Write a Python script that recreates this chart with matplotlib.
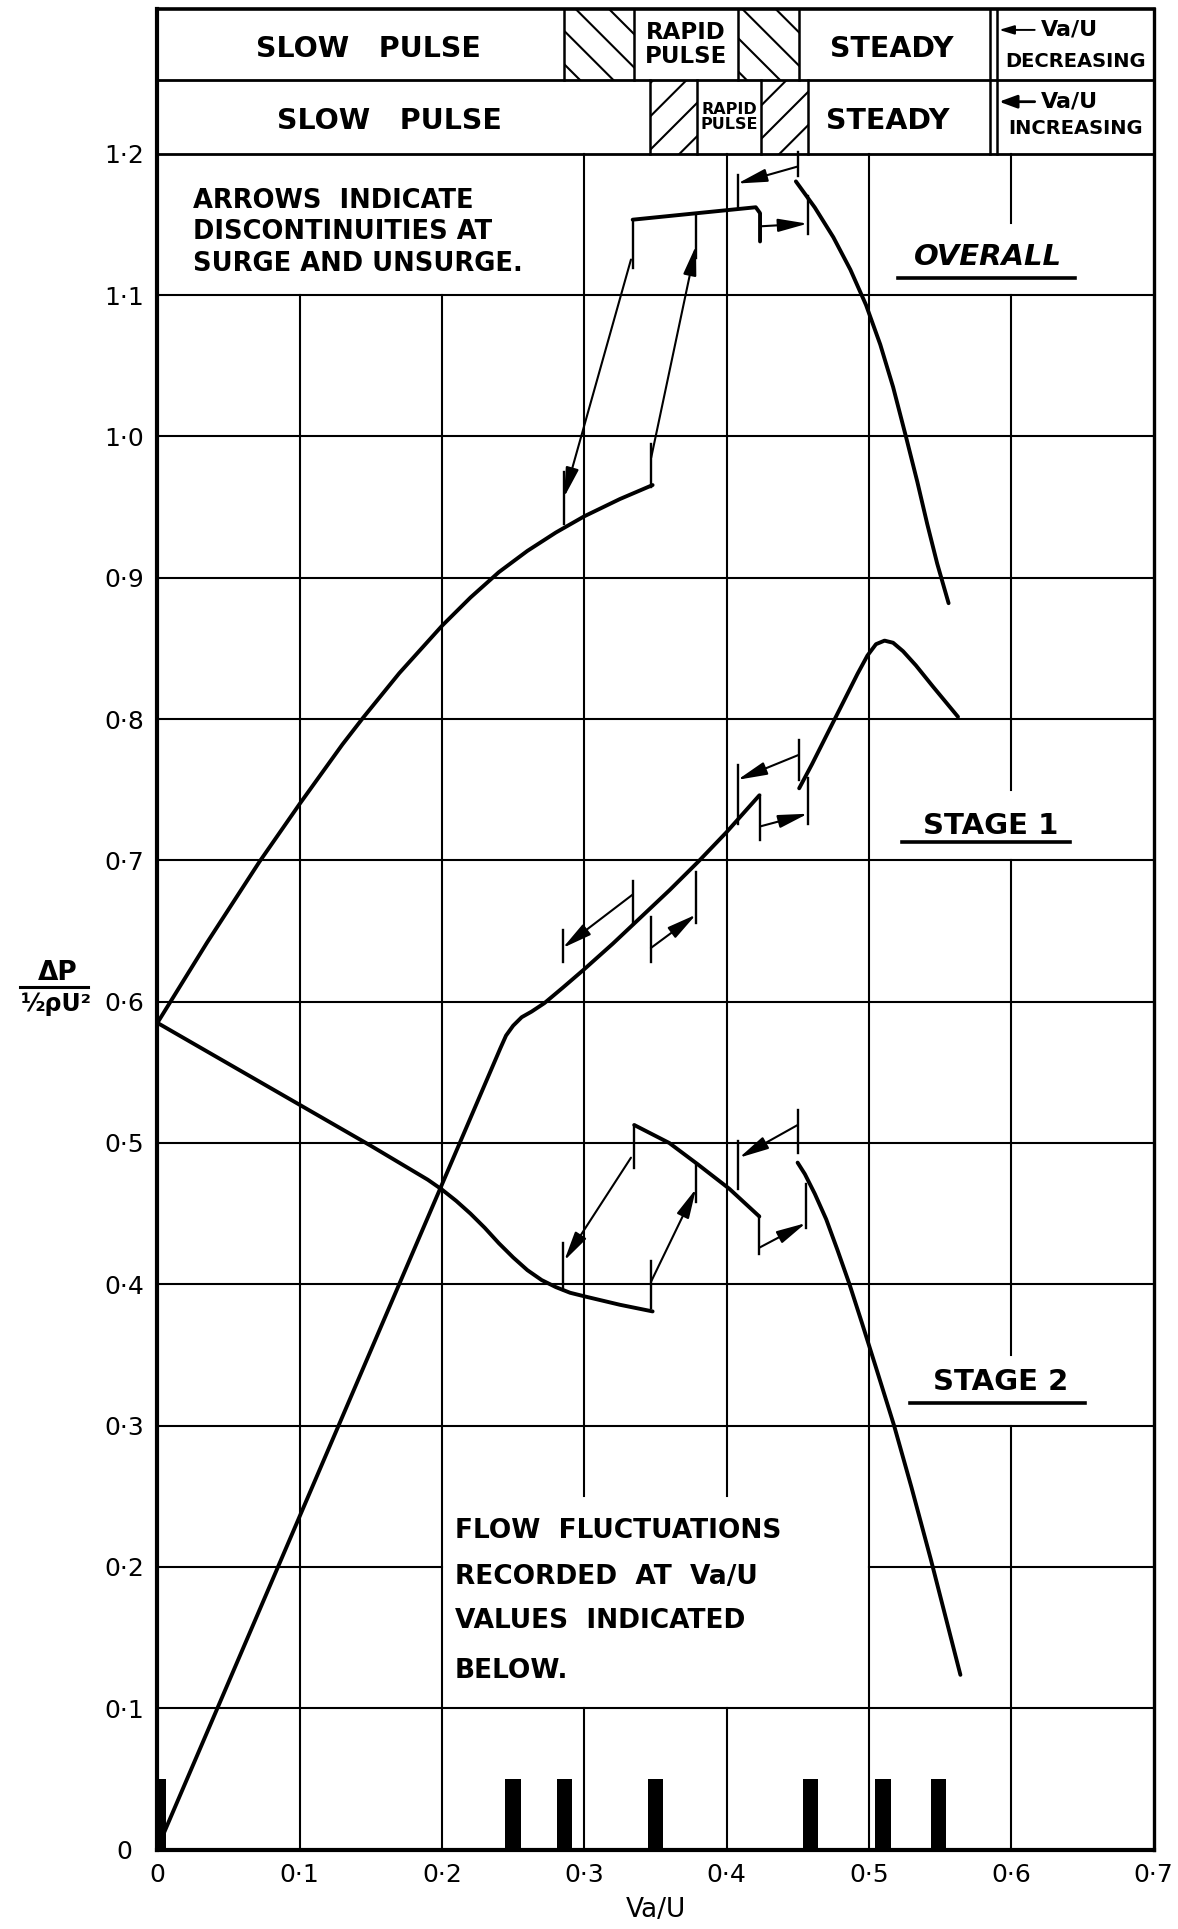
import numpy as np
import matplotlib
matplotlib.use("Agg")
import matplotlib.pyplot as plt
from matplotlib.patches import Rectangle
from matplotlib.lines import Line2D

plt.rcParams['font.family'] = ['DejaVu Sans']
plt.rcParams['hatch.linewidth'] = 1.5
plt.rcParams['hatch.color'] = 'black'

# ---------------- data ----------------
x_ticks = [0.0, 0.1, 0.2, 0.3, 0.4, 0.5, 0.6, 0.7]
x_tick_labels = ['0', '0·1', '0·2', '0·3', '0·4', '0·5', '0·6', '0·7']
y_ticks = [0.0, 0.1, 0.2, 0.3, 0.4, 0.5, 0.6, 0.7, 0.8, 0.9, 1.0, 1.1, 1.2]
y_tick_labels = ['0', '0·1', '0·2', '0·3', '0·4', '0·5', '0·6', '0·7', '0·8',
                 '0·9', '1·0', '1·1', '1·2']

# OVERALL
overall_slow_x = [0.0, 0.035, 0.0717, 0.1, 0.13, 0.1446, 0.17, 0.2, 0.22, 0.24, 0.26,
                  0.28, 0.3, 0.325, 0.348]
overall_slow_y = [0.585, 0.642, 0.699, 0.740, 0.782, 0.801, 0.8325, 0.866, 0.886, 0.904,
                  0.919, 0.932, 0.9435, 0.9557, 0.9656]
overall_rapid_x = [0.334, 0.4205, 0.4235, 0.4235]
overall_rapid_y = [1.1534, 1.1622, 1.158, 1.138]
overall_steady_x = [0.4487, 0.462, 0.475, 0.487, 0.498, 0.508, 0.517, 0.526, 0.534, 0.541,
                    0.548, 0.556]
overall_steady_y = [1.1805, 1.162, 1.141, 1.118, 1.093, 1.065, 1.035, 1.000, 0.968, 0.938,
                    0.910, 0.882]
overall_tick_x = [0.286, 0.334, 0.347, 0.3785, 0.4077, 0.4499, 0.4569]
overall_tick_lo = [0.938, 1.1193, 0.964, 1.1264, 1.1617, 1.184, 1.143]
overall_tick_hi = [0.975, 1.1534, 0.995, 1.157, 1.185, 1.2016, 1.170]
overall_arrow_from = [(0.3328, 1.1252), (0.347, 0.985), (0.4499, 1.191), (0.4235, 1.1487)]
overall_arrow_to = [(0.2858, 0.957), (0.3785, 1.135), (0.4077, 1.179), (0.4569, 1.1506)]

# STAGE 1
stage1_slow_x = [0.003, 0.241, 0.245, 0.25, 0.256, 0.263, 0.272, 0.285, 0.3, 0.32, 0.34,
                 0.36, 0.38, 0.4, 0.423]
stage1_slow_y = [0.008, 0.567, 0.576, 0.583, 0.589, 0.593, 0.599, 0.610, 0.623, 0.641,
                 0.660, 0.679, 0.699, 0.720, 0.746]
stage1_steady_x = [0.451, 0.46, 0.47, 0.4827, 0.492, 0.499, 0.505, 0.511, 0.517, 0.524,
                   0.533, 0.545, 0.5626]
stage1_steady_y = [0.751, 0.768, 0.788, 0.8134, 0.832, 0.845, 0.853, 0.8555, 0.854, 0.848,
                   0.838, 0.823, 0.8016]
stage1_tick_x = [0.2848, 0.334, 0.3468, 0.3785, 0.4077, 0.4235, 0.4506, 0.457]
stage1_tick_lo = [0.628, 0.655, 0.628, 0.656, 0.726, 0.7146, 0.757, 0.726]
stage1_tick_hi = [0.651, 0.6852, 0.660, 0.692, 0.7675, 0.746, 0.785, 0.758]
stage1_arrow_from = [(0.334, 0.6758), (0.3468, 0.638), (0.4506, 0.7746), (0.4235, 0.724)]
stage1_arrow_to = [(0.2848, 0.638), (0.3785, 0.6616), (0.4077, 0.757), (0.457, 0.733)]

# STAGE 2
stage2_slow_x = [0.0, 0.05, 0.1, 0.15, 0.19, 0.2, 0.21, 0.22, 0.23, 0.24, 0.25, 0.26,
                 0.27, 0.28, 0.29, 0.3012, 0.325, 0.348]
stage2_slow_y = [0.585, 0.556, 0.527, 0.498, 0.474, 0.467, 0.459, 0.450, 0.440, 0.429,
                 0.419, 0.410, 0.403, 0.398, 0.394, 0.3912, 0.3855, 0.3808]
stage2_rapid_x = [0.3351, 0.3597, 0.3796, 0.4019, 0.423]
stage2_rapid_y = [0.5127, 0.500, 0.485, 0.4676, 0.448]
stage2_steady_x = [0.4499, 0.455, 0.462, 0.47, 0.478, 0.4862, 0.495, 0.505, 0.5177, 0.53,
                   0.5436, 0.5643]
stage2_steady_y = [0.4861, 0.478, 0.464, 0.446, 0.424, 0.4005, 0.373, 0.341, 0.300, 0.256,
                   0.205, 0.1236]
stage2_tick_x = [0.2848, 0.3351, 0.3468, 0.3785, 0.4077, 0.423, 0.4499, 0.4557]
stage2_tick_lo = [0.3958, 0.4826, 0.3831, 0.4583, 0.4676, 0.4213, 0.4931, 0.4398]
stage2_tick_hi = [0.4294, 0.5127, 0.4167, 0.485, 0.5012, 0.448, 0.5231, 0.471]
stage2_arrow_from = [(0.3328, 0.4896), (0.3468, 0.4016), (0.4499, 0.5127), (0.423, 0.4259)]
stage2_arrow_to = [(0.2859, 0.4167), (0.3785, 0.4676), (0.4089, 0.4896), (0.4557, 0.4433)]

# flow fluctuation recording points
flow_x = [0.003, 0.25, 0.286, 0.35, 0.459, 0.51, 0.549]
flow_h = [0.05, 0.05, 0.05, 0.05, 0.05, 0.05, 0.05]
flow_w = [0.006, 0.011, 0.011, 0.011, 0.011, 0.011, 0.011]

# flow regime bands (Va/U decreasing / increasing)
band_dec_edges = [0.0, 0.286, 0.3349, 0.4079, 0.4512, 0.5851]
band_dec_labels = ['SLOW   PULSE', '', 'RAPID\nPULSE', '', 'STEADY']
band_dec_label_x = [0.148, None, 0.3714, None, 0.516]
band_inc_edges = [0.0, 0.3465, 0.3791, 0.4242, 0.4572, 0.5851]
band_inc_labels = ['SLOW   PULSE', '', 'RAPID\nPULSE', '', 'STEADY']
band_inc_label_x = [0.163, None, 0.4016, None, 0.513]

# ---------------- figure ----------------
W, H = 1178, 1929
fig = plt.figure(figsize=(W / 100, H / 100), dpi=100)
ax = fig.add_axes([157.4 / W, 79.5 / H, (1153.5 - 157.4) / W, (1920 - 79.5) / H])
ax.set_xlim(0, 0.7)
ax.set_ylim(0, 1.3025)

# grid drawn manually, leaving blank boxes behind the notes
blank = [(0.0, 0.3, 1.1, 1.2), (0.5, 0.7, 1.1, 1.151), (0.5, 0.7, 0.7, 0.75),
         (0.5, 0.7, 0.3, 0.35), (0.2, 0.5, 0.1, 0.25)]
GLW = 1.5


def segments(lo, hi, cuts):
    cuts = sorted(cuts)
    out, cur = [], lo
    for a, b in cuts:
        if a > cur:
            out.append((cur, a))
        cur = max(cur, b)
    if cur < hi:
        out.append((cur, hi))
    return out


for gx in x_ticks[1:-1]:
    cuts = [(b[2], b[3]) for b in blank if b[0] < gx - 1e-9 and gx + 1e-9 < b[1]]
    for a, b in segments(0, 1.2, cuts):
        ax.plot([gx, gx], [a, b], color='black', lw=GLW, zorder=1)
for gy in y_ticks[1:]:
    cuts = [(b[0], b[1]) for b in blank if b[2] < gy - 1e-9 and gy + 1e-9 < b[3]]
    for a, b in segments(0, 0.7, cuts):
        ax.plot([a, b], [gy, gy], color='black', lw=GLW if gy < 1.15 else 2.0, zorder=1)

# banner rows
row_dec = (1.2523, 1.3025)
row_inc = (1.2, 1.2523)
ax.plot([0, 0.7], [row_dec[0], row_dec[0]], color='black', lw=2.0, zorder=2)
for edges, labels, lxs, (y0, y1), hatch, rfs in [
        (band_dec_edges, band_dec_labels, band_dec_label_x, row_dec, '\\', 16.5),
        (band_inc_edges, band_inc_labels, band_inc_label_x, row_inc, '/', 11.5)]:
    for i, lab in enumerate(labels):
        x0, x1 = edges[i], edges[i + 1]
        if i > 0:
            ax.plot([x0, x0], [y0, y1], color='black', lw=1.8, zorder=2)
        if lab == '':
            ax.add_patch(Rectangle((x0, y0), x1 - x0, y1 - y0, fill=False,
                                   hatch=hatch, lw=0, zorder=1.5))
        elif 'RAPID' in lab:
            ax.text(lxs[i], (y0 + y1) / 2, lab, ha='center', va='center',
                    fontsize=rfs, fontweight='bold', linespacing=1.05)
        else:
            ax.text(lxs[i], (y0 + y1) / 2 - 0.003, lab, ha='center', va='center',
                    fontsize=20.5, fontweight='bold')
for xx in [0.5851, 0.5898]:
    ax.plot([xx, xx], [1.2, 1.3025], color='black', lw=1.8, zorder=2)

ax.annotate('', xy=(0.5915, 1.2877), xytext=(0.6165, 1.2877),
            arrowprops=dict(arrowstyle='-|>,head_length=0.5,head_width=0.15', lw=1.4,
                            color='black', shrinkA=0, shrinkB=0, mutation_scale=18))
ax.text(0.621, 1.2877, 'Va/U', ha='left', va='center', fontsize=16, fontweight='bold')
ax.text(0.6453, 1.2652, 'DECREASING', ha='center', va='center', fontsize=14, fontweight='bold')
ax.annotate('', xy=(0.5915, 1.2369), xytext=(0.6165, 1.2369),
            arrowprops=dict(arrowstyle='-|>,head_length=0.6,head_width=0.22', lw=2.0,
                            color='black', shrinkA=0, shrinkB=0, mutation_scale=18))
ax.text(0.621, 1.2369, 'Va/U', ha='left', va='center', fontsize=16, fontweight='bold')
ax.text(0.6453, 1.2181, 'INCREASING', ha='center', va='center', fontsize=14, fontweight='bold')

# curves
CLW = 2.8
for xs, ys in [(overall_slow_x, overall_slow_y), (overall_rapid_x, overall_rapid_y),
               (overall_steady_x, overall_steady_y),
               (stage1_slow_x, stage1_slow_y), (stage1_steady_x, stage1_steady_y),
               (stage2_slow_x, stage2_slow_y), (stage2_rapid_x, stage2_rapid_y),
               (stage2_steady_x, stage2_steady_y)]:
    ax.plot(xs, ys, color='black', lw=CLW, solid_capstyle='round',
            solid_joinstyle='round', zorder=4)

# discontinuity markers and arrows
for tx, tlo, thi in [(overall_tick_x, overall_tick_lo, overall_tick_hi),
                     (stage1_tick_x, stage1_tick_lo, stage1_tick_hi),
                     (stage2_tick_x, stage2_tick_lo, stage2_tick_hi)]:
    for x, lo, hi in zip(tx, tlo, thi):
        ax.plot([x, x], [lo, hi], color='black', lw=1.7, zorder=4)
for af, at in [(overall_arrow_from, overall_arrow_to),
               (stage1_arrow_from, stage1_arrow_to),
               (stage2_arrow_from, stage2_arrow_to)]:
    for s, e in zip(af, at):
        ax.annotate('', xy=e, xytext=s, zorder=5,
                    arrowprops=dict(arrowstyle='-|>,head_length=0.9,head_width=0.2',
                                    lw=1.5, color='black', shrinkA=0, shrinkB=0,
                                    mutation_scale=20))

# flow fluctuation bars
ax.bar(flow_x, flow_h, width=flow_w, color='black', zorder=4)

# notes
for txt, yy in zip(['ARROWS  INDICATE', 'DISCONTINUITIES AT', 'SURGE AND UNSURGE.'],
                   [1.1669, 1.1445, 1.122]):
    ax.text(0.0252, yy, txt, ha='left', va='center', fontsize=18.5, fontweight='bold')
for txt, yy in zip(['FLOW  FLUCTUATIONS', 'RECORDED  AT  Va/U', 'VALUES  INDICATED', 'BELOW.'],
                   [0.2252, 0.1925, 0.1619, 0.1265]):
    ax.text(0.2092, yy, txt, ha='left', va='center', fontsize=19, fontweight='bold')

ax.text(0.5835, 1.1267, 'OVERALL', ha='center', va='center', fontsize=21,
        fontweight='bold', style='italic')
ax.plot([0.5205, 0.645], [1.112, 1.112], color='black', lw=2.6)
ax.text(0.5855, 0.7243, 'STAGE 1', ha='center', va='center', fontsize=21, fontweight='bold')
ax.plot([0.523, 0.641], [0.7132, 0.7132], color='black', lw=2.6)
ax.text(0.5925, 0.331, 'STAGE 2', ha='center', va='center', fontsize=21, fontweight='bold')
ax.plot([0.529, 0.652], [0.3162, 0.3162], color='black', lw=2.6)

# axes, ticks
ax.set_xticks(x_ticks)
ax.set_xticklabels(x_tick_labels)
ax.set_yticks(y_ticks)
ax.set_yticklabels(y_tick_labels)
ax.tick_params(axis='both', length=0, labelsize=18)
ax.tick_params(axis='x', pad=10)
ax.tick_params(axis='y', pad=24)
for lbl in ax.get_yticklabels():
    lbl.set_ha('center')
for side, lw in [('left', 3.0), ('bottom', 3.0), ('right', 2.4), ('top', 2.6)]:
    ax.spines[side].set_linewidth(lw)
    ax.spines[side].set_zorder(6)

ax.text(0.35, -0.043, 'Va/U', ha='center', va='center', fontsize=19)

# y label as a fraction
fig.text(58 / W, 1 - 973 / H, 'ΔP', ha='center', va='center', fontsize=19, fontweight='bold')
fig.add_artist(Line2D([20 / W, 88 / W], [1 - 987 / H, 1 - 987 / H], color='black', lw=2.2))
fig.text(56 / W, 1 - 1004 / H, '½ρU²', ha='center', va='center', fontsize=17, fontweight='bold')

fig.savefig('out.png', dpi=100, facecolor='white')
